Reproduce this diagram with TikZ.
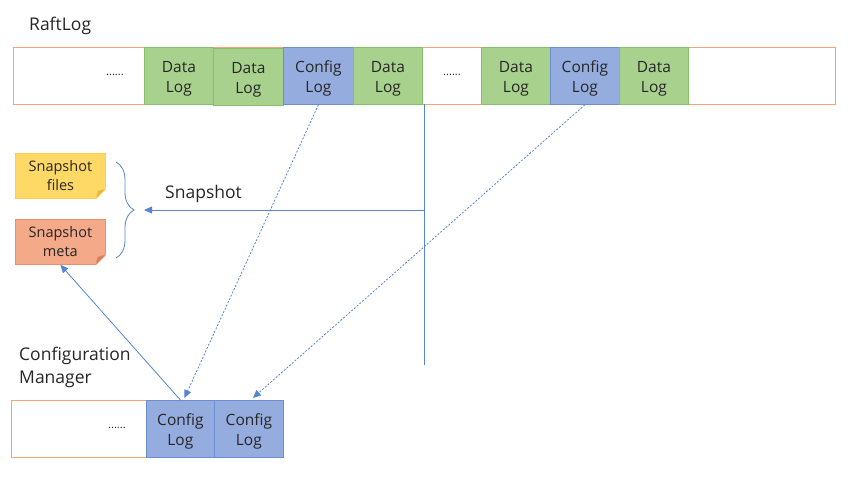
\documentclass[tikz,border=0pt]{standalone}
\usepackage{fontspec}
\setmainfont{Open Sans}
\usetikzlibrary{arrows.meta,decorations.pathreplacing}
\definecolor{txt}{HTML}{262626}
\definecolor{frameLine}{HTML}{F4A46C}
\definecolor{dataFill}{HTML}{A9D18E}
\definecolor{dataLine}{HTML}{86BF66}
\definecolor{cfgFill}{HTML}{95ACDE}
\definecolor{cfgLine}{HTML}{6B8ED2}
\definecolor{linkCol}{HTML}{5585D2}
\definecolor{filesFill}{HTML}{FFD966}
\definecolor{filesLine}{HTML}{FFCC4D}
\definecolor{filesFlap}{HTML}{E2B640}
\definecolor{metaFill}{HTML}{F4A988}
\definecolor{metaLine}{HTML}{EE8F66}
\definecolor{metaFlap}{HTML}{D9805A}
% two centred lines, set a little below the box centre
\newcommand\twolines[2]{\raisebox{-2.5pt}[\dimexpr\height+2.5pt\relax][\dimexpr\depth+2.5pt\relax]{\begin{tabular}{@{}c@{}}#1\\#2\end{tabular}}}
\begin{document}
\begin{tikzpicture}[x=1pt,y=-1pt,
  every node/.style={text=txt},
  frame/.style={draw=frameLine, line width=0.9pt, fill=white, inner sep=0, anchor=north west, minimum height=57},
  logbox/.style={line width=0.8pt, minimum height=57, inner sep=0, anchor=north west, font=\fontsize{15.5}{20}\selectfont},
  datalog/.style={logbox, fill=dataFill, draw=dataLine, minimum width=69},
  cfglog/.style={logbox, fill=cfgFill, draw=cfgLine, minimum width=69},
  dots/.style={font=\fontsize{11}{12}\selectfont, inner sep=0},
  note/.style={line width=0.8pt, minimum width=90, minimum height=45, inner sep=0, align=center, anchor=north west, font=\fontsize{14.5}{19}\selectfont},
  heading/.style={font=\fontsize{17.5}{23}\selectfont, inner sep=0, anchor=base west, align=left},
  link/.style={draw=linkCol, line width=0.8pt},
  dlink/.style={link, dash pattern=on 2pt off 1.6pt},
  tip/.style={-{Triangle[length=8pt,width=7pt]}}
]
\useasboundingbox (0,0) rectangle (848,482);

% RaftLog row
\node[heading] (raftlabel) at (29,30) {RaftLog};
\node[frame, minimum width=822] (raft) at (13,47) {};
\node[dots] (dotsA) at (115,75) {......};
\node[datalog] (d1) at (144,47) {\twolines{Data}{Log}};
\node[datalog, minimum width=70] (d2) at (213,48) {\twolines{Data}{Log}};
\node[cfglog, minimum width=70] (cfg1) at (283,47) {\twolines{Config}{Log}};
\node[datalog] (d3) at (353,47) {\twolines{Data}{Log}};
\node[dots] (dotsB) at (452,75) {......};
\node[datalog] (d4) at (481,47) {\twolines{Data}{Log}};
\node[cfglog] (cfg2) at (550,47) {\twolines{Config}{Log}};
\node[datalog] (d5) at (619,47) {\twolines{Data}{Log}};

% snapshot cut
\coordinate (cuttop) at (424,104);
\coordinate (cutmid) at (424,210);
\coordinate (cutbot) at (424,365);
\draw[link] (cuttop) -- (cutbot);

% snapshot contents
\node[note, fill=filesFill, draw=filesLine] (files) at (15,153) {Snapshot\\files};
\node[note, fill=metaFill, draw=metaLine] (meta) at (15,219) {Snapshot\\meta};
\foreach \n/\f/\l in {files/filesFlap/filesLine, meta/metaFlap/metaLine}{
  \fill[white] ([xshift=-10.5pt,yshift=-0.6pt]\n.south east) -- ([xshift=0.6pt,yshift=-0.6pt]\n.south east)
      -- ([xshift=0.6pt,yshift=10.5pt]\n.south east) -- cycle;
  \filldraw[fill=\f, draw=\l, line width=0.5pt, line join=round]
      ([xshift=-10pt]\n.south east) -- ([yshift=10pt]\n.south east)
      -- ([xshift=-8pt,yshift=8pt]\n.south east) -- cycle;
}
\draw[link, decorate, decoration={brace, amplitude=18pt}] (116,162) -- (116,258);
\coordinate (bracetip) at (144,210);
\draw[link, tip] (cutmid) -- (bracetip);
\node[heading] (snaplabel) at (165,198) {Snapshot};

% configuration manager row
\node[heading] (cmlabel) at (19,383) {Configuration\\Manager};
\node[frame, minimum width=135] (cmframe) at (11,400) {};
\node[dots] (dotsC) at (117,428) {......};
\node[cfglog, minimum width=68] (cm1) at (146,400) {\twolines{Config}{Log}};
\node[cfglog, minimum width=69] (cm2) at (214,400) {\twolines{Config}{Log}};

% connectors
\draw[link, tip] (cm1.north) -- (meta.south);
\draw[dlink, tip] (cfg1.south) -- ([xshift=4pt,yshift=2pt]cm1.north);
\draw[dlink, tip] (cfg2.south) -- ([xshift=4pt,yshift=2pt]cm2.north);
\end{tikzpicture}
\end{document}
